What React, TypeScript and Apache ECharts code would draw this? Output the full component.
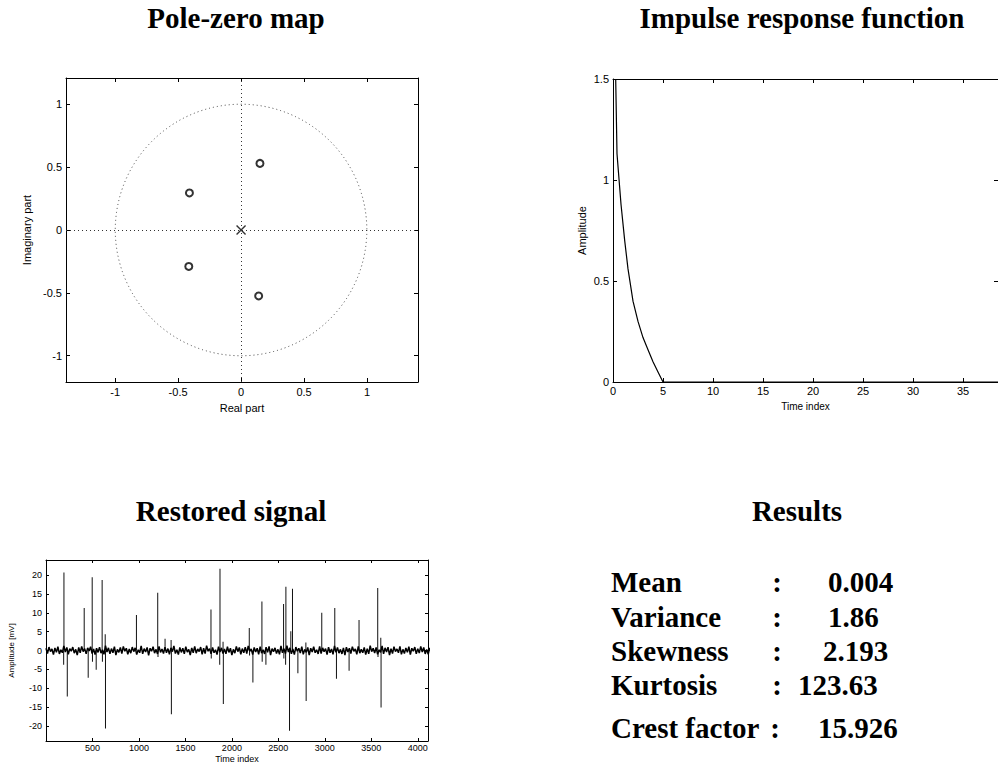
import React, { useEffect, useRef } from "react";
import * as echarts from "echarts";

// ---------- Pole-zero map ----------
const zeros: number[][] = [
  [0.15, 0.53],
  [0.14, -0.525],
  [-0.41, 0.295],
  [-0.415, -0.29],
];
const poles: number[][] = [[0.0, 0.0]];
const unitCircle: number[][] = [[0, 0, 1]];
const pzTicks = [-1, -0.5, 0, 0.5, 1];

// ---------- Impulse response ----------
const irT = [0.27, 0.4, 0.8, 1.17, 1.5, 2.0, 2.5, 3.0, 3.5, 4.0, 4.5, 5.0, 38.5];
const irV = [1.5, 1.13, 0.88, 0.7, 0.56, 0.4, 0.3, 0.22, 0.16, 0.1, 0.05, 0.0, 0.0];
const irXTicks = [0, 5, 10, 15, 20, 25, 30, 35];
const irYTicks = [0, 0.5, 1, 1.5];

// ---------- Restored signal ----------
const noiseStep = 16;
const noise = [
  0.6,-0.8,0.9,-0.3,0.4,-1.1,0.7,-0.5,1.0,-0.9,0.2,-0.6,1.2,-0.4,0.8,-1.0,0.5,-0.2,0.9,-0.7,
  0.3,-1.2,0.8,-0.6,1.1,-0.3,0.5,-0.9,0.7,-0.1,1.0,-0.8,0.4,-1.1,0.6,-0.5,0.9,-0.7,0.2,-1.0,
  1.3,-0.4,0.7,-0.9,0.5,-0.6,1.0,-1.2,0.3,-0.5,0.8,-0.8,1.1,-0.2,0.6,-1.0,0.4,-0.7,0.9,-0.3,
  0.7,-1.1,0.2,-0.6,1.2,-0.9,0.5,-0.4,0.8,-1.3,0.6,-0.2,1.0,-0.7,0.3,-0.9,1.1,-0.5,0.4,-0.8,
  0.9,-0.6,0.5,-1.0,0.7,-0.3,1.2,-0.8,0.2,-1.1,0.8,-0.5,0.6,-0.9,1.0,-0.4,0.3,-1.2,0.7,-0.6,
  1.1,-0.7,0.4,-0.3,0.9,-1.0,0.6,-0.8,1.3,-0.2,0.5,-0.9,0.8,-0.6,0.2,-1.1,1.0,-0.4,0.7,-0.8,
  0.4,-0.9,1.0,-0.5,0.6,-1.2,0.3,-0.7,1.1,-0.3,0.8,-1.0,0.5,-0.6,0.9,-0.8,1.2,-0.2,0.4,-1.1,
  0.8,-0.4,0.6,-1.0,1.0,-0.7,0.2,-0.9,0.9,-0.5,1.1,-1.2,0.5,-0.3,0.7,-0.8,0.3,-1.0,1.2,-0.6,
  0.5,-0.8,1.3,-0.4,0.7,-0.9,0.4,-1.1,0.9,-0.2,0.6,-0.7,1.0,-1.0,0.3,-0.5,0.8,-1.2,0.6,-0.4,
  1.0,-0.6,0.2,-0.9,1.1,-0.8,0.7,-0.3,0.5,-1.1,0.9,-0.6,0.4,-1.0,1.2,-0.5,0.8,-0.7,0.3,-0.9,
  0.7,-1.2,0.9,-0.4,0.6,-0.8,1.0,-0.2,0.4,-1.0,1.1,-0.7,0.3,-0.6,0.8,-1.1,0.5,-0.9,1.3,-0.3,
  0.6,-0.7,0.8,-1.0,0.2,-0.5,1.2,-0.9,0.7,-0.4,0.9,-1.2,0.5,-0.8,1.0,-0.3,0.4,-0.6,1.1,-1.0,
  0.3,-0.8,0.7,-0.5,1.0,-1.1,0.6,-0.2,0.9,-0.9,0.5,-0.7,1.1,-0.4,0.8,-0.9,0.3,-1.0,0.7,-0.5,
];
const spikeT = [
  190,193,229,411,454,497,500,540,604,607,637,640,973,1202,1205,1281,1346,1349,1775,1778,
  1869,1872,1905,1908,2187,2190,2226,2323,2326,2366,2556,2559,2578,2581,2620,2634,2652,2710,
  2796,2799,2967,3107,3125,3261,3368,3569,3572,3602,3605,
];
const spikeV = [
  -3.8,20.7,-12.2,11.3,-7.2,19.4,-3.0,-5.1,18.7,-3.0,4.3,-20.7,9.4,15.3,-1.7,3.1,2.8,-16.9,10.9,-2.1,
  -3.8,21.7,2.3,-14.2,6.0,-1.3,-8.5,13.0,-3.0,-3.8,12.3,-2.1,-3.8,16.9,-21.3,5.1,16.4,-6.0,
  2.1,-13.4,10.0,11.3,-7.5,-5.4,8.1,16.6,-1.7,3.4,-15.1,
];
const sigXTicks = [500, 1000, 1500, 2000, 2500, 3000, 3500, 4000];
const sigYTicks = [-20, -15, -10, -5, 0, 5, 10, 15, 20];

// ---------- Results ----------
const statNames = ["Mean", "Variance", "Skewness", "Kurtosis", "Crest factor"];
const statValues = ["0.004", "1.86", "2.193", "123.63", "15.926"];

const SANS = "Liberation Sans, Arial, sans-serif";
const SERIF = "Liberation Serif, Times New Roman, serif";

function axisPair(
  grid: number,
  min: number,
  max: number,
  ticks: number[],
  dim: "x" | "y",
  fontSize: number,
  name: string,
  nameGap: number,
  nameFont: number,
  tickLen: number
) {
  const main: any = {
    type: "value",
    gridIndex: grid,
    min,
    max,
    position: dim === "x" ? "bottom" : "left",
    name,
    nameLocation: "middle",
    nameGap,
    nameTextStyle: { fontFamily: SANS, fontSize: nameFont, color: "#000" },
    axisLine: { show: true, onZero: false, lineStyle: { color: "#000", width: 1 } },
    axisTick: { show: true, inside: true, length: tickLen, customValues: ticks, lineStyle: { color: "#000" } },
    axisLabel: {
      show: true,
      customValues: ticks,
      fontFamily: SANS,
      fontSize,
      color: "#000",
      margin: 4,
      formatter: (v: number) => String(v),
    },
    splitLine: { show: false },
  };
  const sec: any = {
    type: "value",
    gridIndex: grid,
    min,
    max,
    position: dim === "x" ? "top" : "right",
    axisLine: { show: true, onZero: false, lineStyle: { color: "#000", width: 1 } },
    axisTick: { show: true, inside: true, length: tickLen, customValues: ticks, lineStyle: { color: "#000" } },
    axisLabel: { show: false },
    splitLine: { show: false },
  };
  return [main, sec];
}

export default function App() {
  const ref = useRef<HTMLDivElement>(null);
  useEffect(() => {
    if (!ref.current) return;
    const chart = echarts.init(ref.current, undefined, { renderer: "svg" });

    const noiseData = noise.map((v, i) => [i * noiseStep, v]);
    const spikeData = spikeT.map((t, i) => [t, spikeV[i]]);
    const impulse = irT.map((t, i) => [t, irV[i]]);

    const [pzX, pzX2] = axisPair(0, -1.39, 1.405, pzTicks, "x", 11, "Real part", 20, 11, 4);
    const [pzY, pzY2] = axisPair(0, -1.21, 1.21, pzTicks, "y", 11, "Imaginary part", 34, 11, 4);
    const [irX, irX2] = axisPair(1, 0, 38.5, irXTicks, "x", 11, "Time index", 19, 10, 4);
    const [irY, irY2] = axisPair(1, 0, 1.5, irYTicks, "y", 11, "Amplitude", 26, 11, 4);
    const [sgX, sgX2] = axisPair(2, 0, 4110, sigXTicks, "x", 9, "Time index", 13, 9, 3);
    const [sgY, sgY2] = axisPair(2, -24, 24, sigYTicks, "y", 9, "Amplitude [mV]", 31, 8, 3);
    irX.axisLabel.margin = 3;
    sgX.axisLabel.margin = 2;

    const dotted = { color: "#333", width: 1, type: [1, 3] as any };

    const titleStyle = (text: string, x: number, y: number) => ({
      type: "text",
      x,
      y,
      style: {
        text,
        font: `bold 29px ${SERIF}`,
        fill: "#000",
        align: "center",
        verticalAlign: "middle",
      },
    });

    const rowsY = [582, 617, 651, 685, 728];
    const colonX = [777, 777, 777, 777, 775];
    const valueX = [828, 828, 823, 798, 818];
    const statGraphics: any[] = [];
    statNames.forEach((n, i) => {
      statGraphics.push({
        type: "text",
        x: 611,
        y: rowsY[i],
        style: { text: n, font: `bold 29px ${SERIF}`, fill: "#000", align: "left", verticalAlign: "middle" },
      });
      statGraphics.push({
        type: "text",
        x: colonX[i],
        y: rowsY[i],
        style: { text: ":", font: `bold 29px ${SERIF}`, fill: "#000", align: "center", verticalAlign: "middle" },
      });
      statGraphics.push({
        type: "text",
        x: valueX[i],
        y: rowsY[i],
        style: { text: statValues[i], font: `bold 29px ${SERIF}`, fill: "#000", align: "left", verticalAlign: "middle" },
      });
    });

    chart.setOption({
      animation: false,
      backgroundColor: "#fff",
      grid: [
        { left: 66, top: 78, width: 352, height: 304, containLabel: false },
        { left: 613, top: 79, width: 386, height: 303, containLabel: false },
        { left: 46, top: 560, width: 382, height: 185, containLabel: false },
      ],
      xAxis: [pzX, pzX2, irX, irX2, sgX, sgX2],
      yAxis: [pzY, pzY2, irY, irY2, sgY, sgY2],
      series: [
        {
          type: "custom",
          xAxisIndex: 0,
          yAxisIndex: 0,
          data: unitCircle,
          silent: true,
          renderItem: (params: any, api: any) => {
            const c = api.coord([api.value(0), api.value(1)]);
            const s = api.size([api.value(2), api.value(2)]);
            return {
              type: "arc",
              shape: { cx: c[0], cy: c[1], r: (s[0] + s[1]) / 2, startAngle: 0, endAngle: Math.PI * 2 },
              style: { stroke: "#444", fill: "none", lineWidth: 1, lineDash: [1, 3] },
            };
          },
        },
        {
          type: "scatter",
          xAxisIndex: 0,
          yAxisIndex: 0,
          data: zeros,
          symbol: "emptyCircle",
          symbolSize: 7,
          itemStyle: { color: "#000", borderColor: "#000", borderWidth: 1.3 },
          markLine: {
            silent: true,
            symbol: ["none", "none"],
            label: { show: false },
            lineStyle: dotted,
            data: [{ xAxis: 0 }, { yAxis: 0 }],
          },
        },
        {
          type: "scatter",
          xAxisIndex: 0,
          yAxisIndex: 0,
          data: poles,
          symbol: "path://M0,0L10,10M10,0L0,10",
          symbolSize: 9,
          itemStyle: { color: "none", borderColor: "#000", borderWidth: 1.4 },
        },
        {
          type: "line",
          xAxisIndex: 2,
          yAxisIndex: 2,
          data: impulse,
          symbol: "none",
          lineStyle: { color: "#000", width: 1.2 },
        },
        {
          type: "line",
          xAxisIndex: 4,
          yAxisIndex: 4,
          data: noiseData,
          symbol: "none",
          lineStyle: { color: "#000", width: 1.5 },
        },
        {
          type: "bar",
          xAxisIndex: 4,
          yAxisIndex: 4,
          data: spikeData,
          barWidth: 1,
          itemStyle: { color: "#111" },
        },
      ],
      graphic: [
        titleStyle("Pole-zero map", 236, 18),
        titleStyle("Impulse response function", 802, 18),
        titleStyle("Restored signal", 231, 511),
        titleStyle("Results", 797, 511),
        ...statGraphics,
      ],
    });
    return () => chart.dispose();
  }, []);
  return (
    <div
      ref={ref}
      style={{ position: "absolute", left: 0, top: 0, width: 998, height: 764, background: "#fff" }}
    />
  );
}
